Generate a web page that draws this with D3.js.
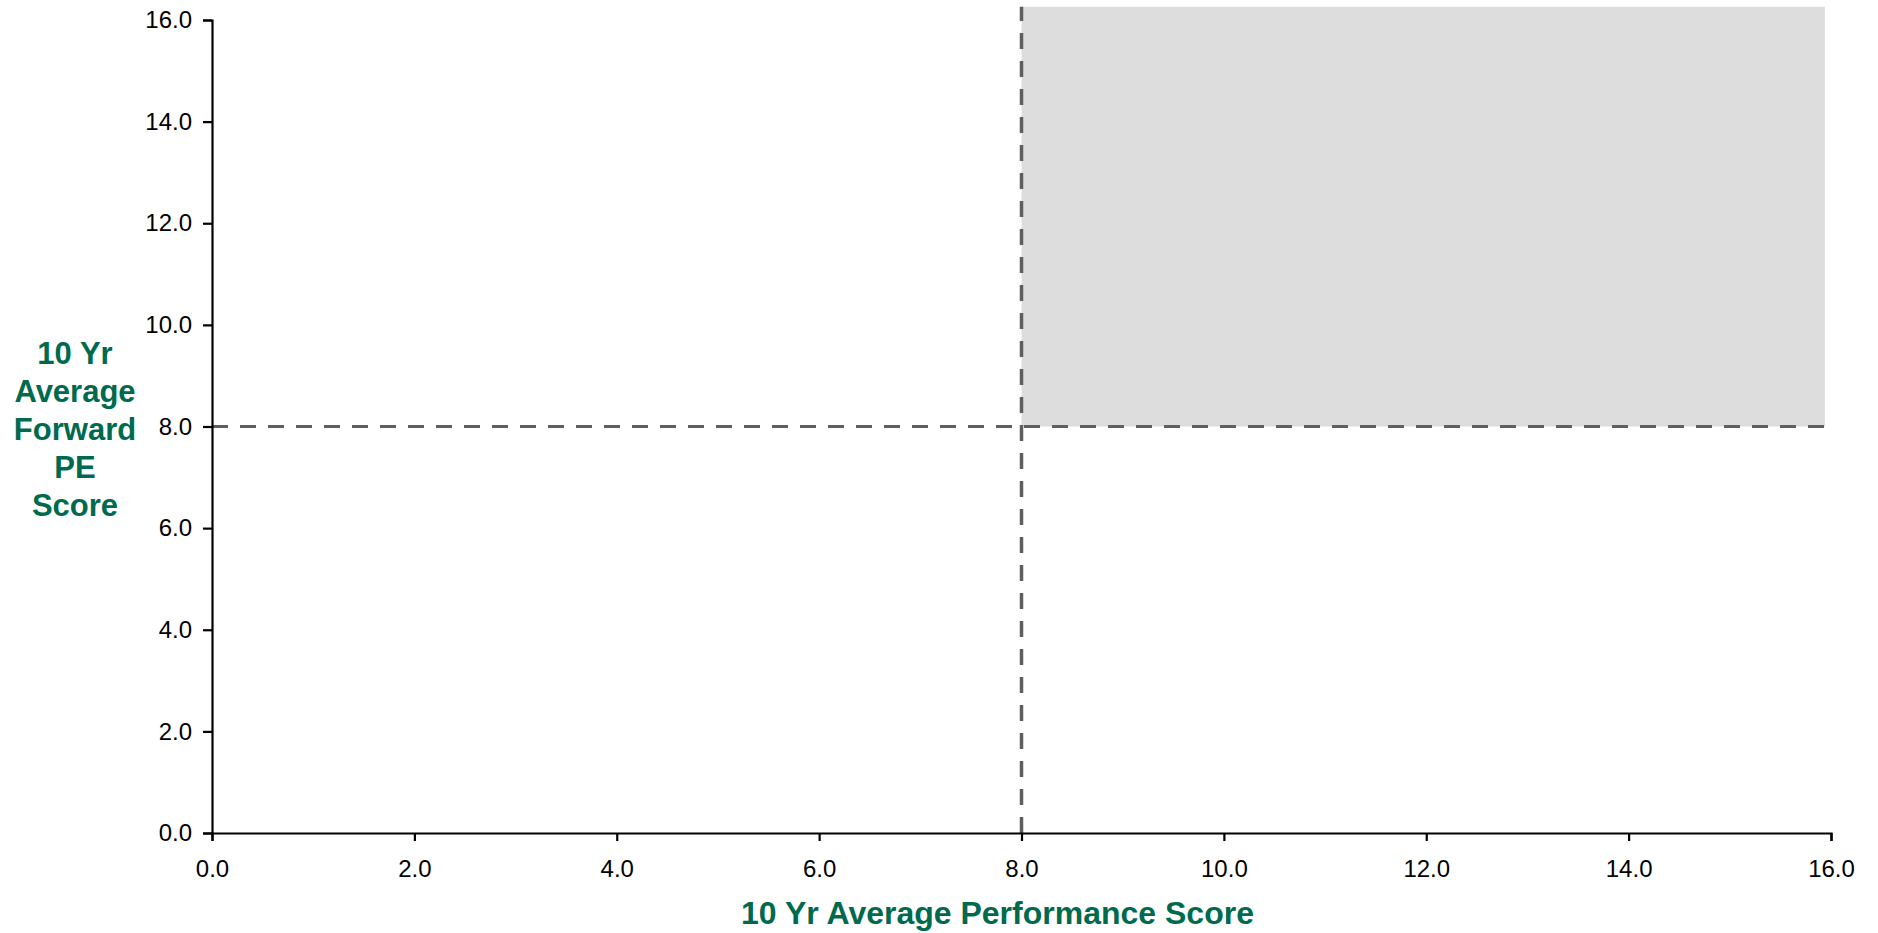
<!DOCTYPE html>
<html>
<head>
<meta charset="utf-8">
<script src="https://cdn.jsdelivr.net/npm/d3@7"></script>
<style>
  html, body { margin: 0; padding: 0; background: #ffffff; }
  svg { display: block; }
</style>
</head>
<body>
<svg id="chart" width="1878" height="933"></svg>
<script>
// Axis domains and tick values
const xDomain = [0, 16];
const yDomain = [0, 16];
const xTicks = [0, 2, 4, 6, 8, 10, 12, 14, 16];
const yTicks = [0, 2, 4, 6, 8, 10, 12, 14, 16];

// Quadrant dividers (score thresholds)
const xThreshold = [8];
const yThreshold = [8];

// Highlighted upper-right quadrant: [x0, x1] and [y0, y1] in score units
const quadrantX = [8, 15.94];
const quadrantY = [8, 16.26];

const xTitle = "10 Yr Average Performance Score";
const yTitleLines = ["10 Yr", "Average", "Forward", "PE", "Score"];

const svg = d3.select("#chart");
const plot = { left: 212, right: 1831, top: 20, bottom: 833 };

const x = d3.scaleLinear().domain(xDomain).range([plot.left, plot.right]);
const y = d3.scaleLinear().domain(yDomain).range([plot.bottom, plot.top]);

const green = "#006a4e";
const dashColor = "#5e5e5e";

// Shaded quadrant
svg.append("rect")
  .attr("x", x(quadrantX[0]))
  .attr("y", y(quadrantY[1]))
  .attr("width", x(quadrantX[1]) - x(quadrantX[0]))
  .attr("height", y(quadrantY[0]) - y(quadrantY[1]))
  .attr("fill", "#dddddd");

// Dashed threshold lines
svg.selectAll("line.vthr").data(xThreshold).enter().append("line")
  .attr("class", "vthr")
  .attr("x1", d => x(d)).attr("x2", d => x(d))
  .attr("y1", y(0)).attr("y2", y(quadrantY[1]))
  .attr("stroke", dashColor).attr("stroke-width", 3.5)
  .attr("stroke-dasharray", "16,12");

svg.selectAll("line.hthr").data(yThreshold).enter().append("line")
  .attr("class", "hthr")
  .attr("x1", x(0)).attr("x2", x(quadrantX[1]))
  .attr("y1", d => y(d)).attr("y2", d => y(d))
  .attr("stroke", dashColor).attr("stroke-width", 3.2)
  .attr("stroke-dasharray", "16,12");

// Axes
const fmt = d3.format(".1f");
const tickFont = "Liberation Sans, Arial, sans-serif";

const xAxis = svg.append("g")
  .attr("transform", `translate(0,${plot.bottom})`)
  .call(d3.axisBottom(x).tickValues(xTicks).tickFormat(fmt).tickSizeInner(8).tickSizeOuter(8).tickPadding(19));

const yAxis = svg.append("g")
  .attr("transform", `translate(${plot.left},0)`)
  .call(d3.axisLeft(y).tickValues(yTicks).tickFormat(fmt).tickSizeInner(9).tickSizeOuter(9).tickPadding(11));

[xAxis, yAxis].forEach(g => {
  g.select(".domain").attr("stroke", "#000").attr("stroke-width", 2.2);
  g.selectAll(".tick line").attr("stroke", "#000").attr("stroke-width", 2.2);
  g.selectAll(".tick text")
    .attr("fill", "#000")
    .style("font-family", tickFont)
    .style("font-size", "24px");
});

// Axis titles
svg.append("text")
  .attr("x", 997.5)
  .attr("y", 924)
  .attr("text-anchor", "middle")
  .attr("fill", green)
  .style("font-family", tickFont)
  .style("font-weight", "bold")
  .style("font-size", "32px")
  .text(xTitle);

const yBaselines = [364, 402, 440, 478, 516];
svg.append("g").selectAll("text").data(yTitleLines).enter().append("text")
  .attr("x", 75)
  .attr("y", (d, i) => yBaselines[i])
  .attr("text-anchor", "middle")
  .attr("fill", green)
  .style("font-family", tickFont)
  .style("font-weight", "bold")
  .style("font-size", "31px")
  .text(d => d);
</script>
</body>
</html>
